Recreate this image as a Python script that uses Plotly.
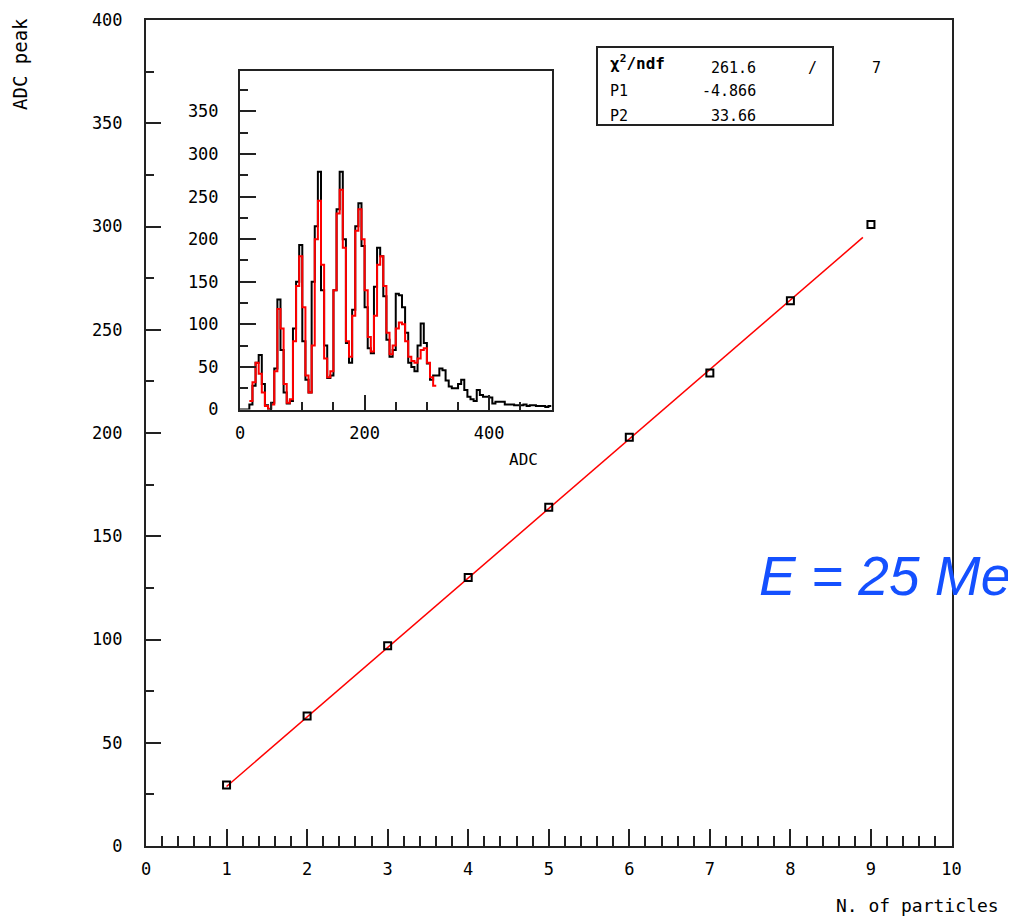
import plotly.graph_objects as go

# page is rendered with an 8px body margin; figure is sized so that it fills the window
PAGE_OFF = 8
W, H = 1016 - PAGE_OFF, 917 - PAGE_OFF

# ---------------- data ----------------
n_particles = [1, 2, 3, 4, 5, 6, 7, 8, 9]
adc_peak = [29.5, 63, 97, 130, 164, 198, 229, 264, 301]

fit_p1 = -4.866
fit_p2 = 33.66
chi2_txt = "261.6"
ndf_txt = "7"
p1_txt = "-4.866"
p2_txt = "33.66"

# inset ADC spectrum, bins of 5 ADC counts from 0 to 500
bin_width = 5
adc_counts = [
    0, 0, 0, 6, 28, 55, 64, 30, 5, 0,
    8, 48, 129, 70, 20, 7, 10, 95, 150, 193,
    80, 35, 20, 150, 215, 279, 140, 75, 37, 40,
    140, 235, 279, 200, 78, 55, 117, 215, 242, 192,
    120, 72, 66, 144, 190, 180, 133, 82, 62, 70,
    136, 134, 120, 90, 55, 50, 45, 75, 101, 78,
    54, 35, 40, 40, 48, 46, 34, 27, 25, 25,
    30, 35, 23, 15, 12, 10, 23, 17, 15, 15,
    14, 7, 9, 9, 9, 6, 6, 6, 5, 5,
    5, 6, 4, 5, 5, 4, 4, 4, 3, 4,
]
# fitted spectrum (red), starting at ADC 15
fit_start = 15
fit_counts = [
    10, 32, 55, 42, 20, 4, 1,
    6, 45, 118, 95, 30, 8,
    12, 80, 145, 180, 120, 40,
    20, 75, 200, 245, 170, 60,
    38, 45, 140, 230, 258, 190,
    80, 62, 110, 210, 235, 200,
    140, 85, 68, 110, 170, 180, 145,
    90, 65, 75, 95, 102, 100, 80,
    62, 57, 55, 60, 70, 72, 55, 38, 28,
]

# ---------------- helpers (page pixel -> paper fraction) ----------------
def px(x):
    return (x - PAGE_OFF) / W

def py(y):
    return 1 - (y - PAGE_OFF) / H

def steps(start, width, vals):
    xs = [start + i * width for i in range(len(vals) + 1)]
    ys = list(vals) + [vals[-1]]
    return xs, ys

MONO = "DejaVu Sans Mono"
tickfont = dict(family=MONO, size=17, color="black")

fig = go.Figure()

# main plot: fit line + points
fit_x = [n_particles[0], n_particles[-1] - 0.1]
fit_y = [fit_p1 + fit_p2 * v for v in fit_x]
fig.add_trace(go.Scatter(x=fit_x, y=fit_y, mode="lines",
                         line=dict(color="red", width=1.5),
                         xaxis="x", yaxis="y", showlegend=False))
fig.add_trace(go.Scatter(x=n_particles, y=adc_peak, mode="markers",
                         marker=dict(symbol="square-open", size=7, color="black",
                                     line=dict(width=2, color="black")),
                         xaxis="x", yaxis="y", showlegend=False))

# inset spectrum
hx, hy = steps(0, bin_width, adc_counts)
fig.add_trace(go.Scatter(x=hx, y=hy, mode="lines", line=dict(color="black", width=2, shape="hv"),
                         xaxis="x2", yaxis="y2", showlegend=False))
fx, fy = steps(fit_start, bin_width, fit_counts)
fig.add_trace(go.Scatter(x=fx, y=fy, mode="lines", line=dict(color="red", width=2, shape="hv"),
                         xaxis="x2", yaxis="y2", showlegend=False))

axline = dict(showline=True, linecolor="#222", linewidth=2, mirror=True,
              showgrid=False, zeroline=False, ticks="inside", tickcolor="#222",
              tickwidth=1.5, tickfont=tickfont, automargin=False)

fig.update_layout(
    width=W, height=H,
    margin=dict(l=0, r=0, t=0, b=0, pad=0, autoexpand=False),
    paper_bgcolor="white", plot_bgcolor="white",
    xaxis=dict(domain=[px(146), px(951.5)], range=[0, 10], dtick=1, ticklen=17,
               minor=dict(dtick=0.2, ticklen=10, ticks="inside", tickcolor="#222", tickwidth=1.5),
               ticklabelstandoff=7, anchor="y", **axline),
    yaxis=dict(domain=[py(846), py(20)], range=[0, 400], dtick=50, ticklen=15,
               minor=dict(dtick=25, ticklen=8, ticks="inside", tickcolor="#222", tickwidth=1.5),
               ticklabelstandoff=18, anchor="x", **axline),
    xaxis2=dict(domain=[px(240), px(551.5)], range=[0, 500], tick0=0, dtick=200, ticklen=15,
                minor=dict(dtick=50, ticklen=8, ticks="inside", tickcolor="#222", tickwidth=1.5),
                ticklabelstandoff=7, anchor="y2", **axline),
    yaxis2=dict(domain=[py(409.5), py(70.5)], range=[0, 398], dtick=50, ticklen=16,
                minor=dict(dtick=25, ticklen=8, ticks="inside", tickcolor="#222", tickwidth=1.5),
                ticklabelstandoff=16, anchor="x2", **axline),
)

ann = []
def text(x, y, s, size=16, xanchor="center", yanchor="middle", **kw):
    ann.append(dict(x=px(x), y=py(y), xref="paper", yref="paper", text=s, showarrow=False,
                    xanchor=xanchor, yanchor=yanchor,
                    font=dict(family=MONO, size=size, color="black"), **kw))

# axis titles
text(20, 64, "ADC peak", size=19, textangle=-90)
text(1001, 905, "N. of particles", size=18, xanchor="right")
text(523, 460, "ADC", size=16)

# stats box contents
text(608, 62, "<b>χ<sup>2</sup>/ndf</b>", size=16, xanchor="left")
text(758, 68, chi2_txt, size=15, xanchor="right")
text(812, 68, "/", size=15)
text(876, 68, ndf_txt, size=15)
text(608, 91, "P1", size=15, xanchor="left")
text(758, 91, p1_txt, size=15, xanchor="right")
text(608, 116, "P2", size=15, xanchor="left")
text(758, 116, p2_txt, size=15, xanchor="right")

# energy label
ann.append(dict(x=px(757), y=py(576), xref="paper", yref="paper", text="E = 25 Me",
                showarrow=False, xanchor="left", yanchor="middle",
                font=dict(family="Liberation Sans", size=55, color="#1450ff", style="italic")))

fig.update_layout(annotations=ann,
                  shapes=[dict(type="rect", xref="paper", yref="paper",
                               x0=px(597), x1=px(833), y0=py(125), y1=py(47),
                               line=dict(color="#222", width=2), fillcolor="rgba(0,0,0,0)",
                               layer="above")])

fig.write_html("out.html")
